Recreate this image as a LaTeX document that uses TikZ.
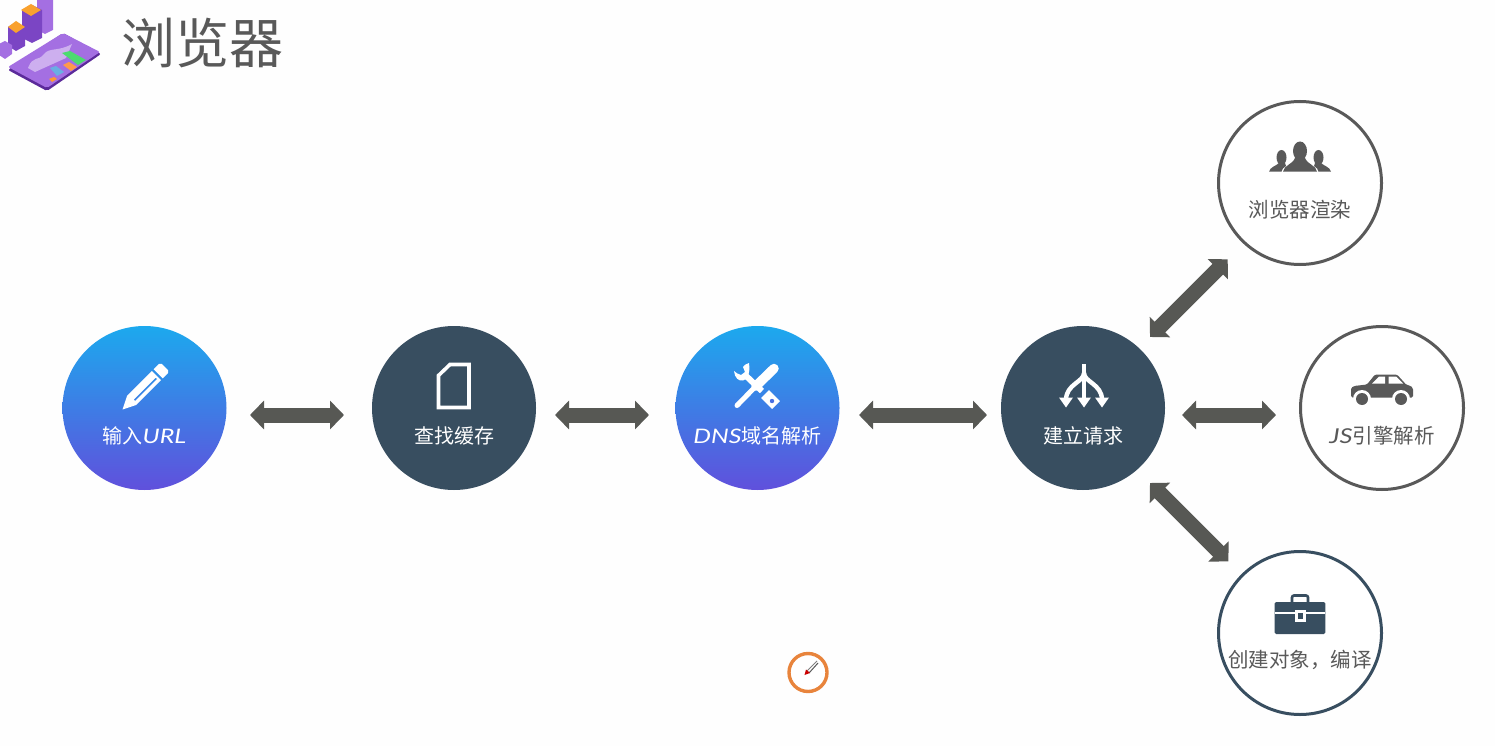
\documentclass[tikz,border=0pt]{standalone}
\usepackage{fontspec}
\usetikzlibrary{arrows.meta,calc}
\newfontfamily\cjkf{Noto Sans CJK SC}
\newfontfamily\latf[FakeStretch=1.25]{Lato}
\definecolor{arrowgray}{HTML}{575854}
\definecolor{inkgray}{HTML}{595959}
\definecolor{slate}{HTML}{384E60}
\definecolor{gradtop}{HTML}{1CA9EE}
\definecolor{gradbot}{HTML}{6050DC}
\definecolor{badge}{HTML}{E8843C}
\definecolor{logoA}{HTML}{A46FE2}
\definecolor{logoB}{HTML}{7B45C4}
\definecolor{logoC}{HTML}{5B2A9A}
\definecolor{logoO}{HTML}{F9A12E}
\tikzset{
  x=1pt,y=-1pt,
  every node/.style={inner sep=0pt,outer sep=0pt},
  gradcirc/.style={circle,minimum size=164pt,top color=gradtop,bottom color=gradbot,draw=none},
  darkcirc/.style={circle,minimum size=164pt,fill=slate},
  ringcirc/.style={circle,minimum size=163pt,draw=#1,line width=3pt,fill=white},
  biarrow/.style={draw=arrowgray,line width=15pt,{Triangle[length=14pt,width=28pt]}-{Triangle[length=14pt,width=28pt]}},
  whitelab/.style={text=white,font=\cjkf\fontsize{20}{24}\selectfont},
  graylab/.style={text=inkgray,font=\cjkf\fontsize{20.5}{24}\selectfont},
  titlelab/.style={text=inkgray,font=\cjkf\fontsize{54}{60}\selectfont},
  wfill/.style={fill=white,draw=none},
  wline/.style={draw=white,line width=3.6pt},
  gfill/.style={fill=inkgray,draw=none},
  sfill/.style={fill=slate,draw=none},
}
\newcommand{\latI}[1]{{\latf\itshape #1}}
\begin{document}
\begin{tikzpicture}
\useasboundingbox (0,0) rectangle (1495,746);
\fill[white!99.5!black] (0,0) rectangle (1495,746);

% logo
\fill[logoA] (37,-2) -- (53,-2) -- (53,30) -- (45,34) -- (37,30) -- cycle;
\fill[logoB] (22,10) -- (32,5) -- (42,10) -- (42,38) -- (32,43) -- (22,38) -- cycle;
\fill[logoO] (21,10) -- (31,4) -- (41,10) -- (31,16) -- cycle;
\fill[logoB] (8,27) -- (16,22) -- (25,27) -- (25,46) -- (16,51) -- (8,46) -- cycle;
\fill[logoO] (8,27) -- (16,21) -- (25,27) -- (16,33) -- cycle;
\fill[logoA] (-1,44) -- (5,41) -- (12,45) -- (12,54) -- (5,59) -- (-1,55) -- cycle;
\fill[logoC,rounded corners=2pt] (8,70) -- (63,33) -- (101,54) -- (47,91) -- cycle;
\fill[logoA,rounded corners=2pt] (8,67) -- (63,33) -- (100,52) -- (47,88) -- cycle;
\fill[white,opacity=.45] (28,68) .. controls (33,55) and (38,62) .. (44,54) .. controls (50,47) and (58,52) .. (72,44) -- (66,58) -- (35,72) -- cycle;
\fill[green!60!teal!70!white] (62,53) -- (70,51) -- (86,60) -- (78,65) -- cycle;
\fill[cyan!70!blue!60!white] (50,68) -- (56,66) -- (64,72) -- (57,76) -- cycle;
\fill[orange!60!pink] (63,65) -- (69,62) -- (77,67) -- (71,71) -- cycle;
\fill[orange!80!white] (49,79) -- (54,77) -- (57,79) -- (52,82) -- cycle;

\node[titlelab] (title) at (202.5,43) {浏览器};

% circles
\node[gradcirc] (url) at (144.5,408) {};
\node[darkcirc] (cache) at (454,408) {};
\node[gradcirc] (dns) at (757.5,408) {};
\node[darkcirc] (req) at (1083,408) {};
\node[ringcirc=inkgray] (render) at (1300,183) {};
\node[ringcirc=inkgray] (js) at (1382,408) {};
\node[ringcirc=slate] (obj) at (1300,633) {};

% labels
\node[whitelab] (urllab) at (144.5,436) {输入\latI{URL}};
\node[whitelab] (cachelab) at (454,436) {查找缓存};
\node[whitelab] (dnslab) at (757.5,436) {\latI{DNS}域名解析};
\node[whitelab] (reqlab) at (1083,436) {建立请求};
\node[graylab] (renderlab) at (1300,210) {浏览器渲染};
\node[graylab] (jslab) at (1382,436) {\latI{JS}引擎解析};
\node[graylab] (objlab) at (1300,660) {创建对象，编译};

% connectors
\draw[biarrow,shorten <=23.5pt,shorten >=28pt] ([yshift=-7pt]url.east) -- ([yshift=-7pt]cache.west);
\draw[biarrow,shorten <=19pt,shorten >=26.5pt] ([yshift=-7pt]cache.east) -- ([yshift=-7pt]dns.west);
\draw[biarrow,shorten <=19.5pt,shorten >=14pt] ([yshift=-7pt]dns.east) -- ([yshift=-7pt]req.west);
\draw[biarrow,shorten <=17pt,shorten >=24.5pt] ([yshift=-7pt]req.east) -- ([yshift=-7pt]js.west);
\draw[biarrow,shorten <=15.6pt,shorten >=23.6pt] ([shift={(-2,-2)}]req.45) -- ([shift={(2,2)}]render.225);
\draw[biarrow,shorten <=18.4pt,shorten >=19.8pt] ([shift={(-4,4)}]req.-45) -- (obj.135);

% pencil
\begin{scope}[shift={(122.5,409.5)},rotate=45]
  \fill[wfill,even odd rule] (0,0) -- (13,-6.5) -- (48,-6.5) -- (48,6.5) -- (13,6.5) -- cycle
     (15,1) rectangle (46,3);
  \fill[wfill] (50.5,-6.5) -- (58,-6.5) -- (60,-4.5) -- (60,4.5) -- (58,6.5) -- (50.5,6.5) -- cycle;
\end{scope}

% document
\draw[wline,line join=miter] (438.5,375.5) -- (450,364.5) -- (469,364.5) -- (469,407.5) -- (438.5,407.5) -- cycle;

% tools
\draw[white,line width=5pt,line cap=round] (737,405.5) -- (757,385);
\draw[white,line width=9.5pt,line cap=round] (756,386) -- (774,368.5);
\fill[wfill] (734,371) .. controls (735,385) and (752,385) .. (749,363) .. controls (746,364) and (744,365) .. (743,367) -- (745,372) -- (741,375) .. controls (738,374) and (736,373) .. cycle;
\draw[white,line width=6pt] (744,374) -- (762,391);
\draw[white,line width=11pt] (765,394) -- (776,405);
\fill[fill=gradtop!35!gradbot] (772,401) circle (2.2pt);

% three arrows
\draw[white,line width=4.6pt] (1084,364) -- (1084,400);
\draw[white,line width=4.4pt] (1084,373) .. controls (1084,382) and (1066,384) .. (1066,400);
\draw[white,line width=4.4pt] (1084,373) .. controls (1084,382) and (1102,384) .. (1102,400);
\fill[wfill] (1059,397.5) -- (1073,397.5) -- (1066,407.5) -- cycle;
\fill[wfill] (1077,397.5) -- (1091,397.5) -- (1084,407.5) -- cycle;
\fill[wfill] (1095,397.5) -- (1109,397.5) -- (1102,407.5) -- cycle;

% people
\fill[gfill] (1281.5,157.5) ellipse (5 and 7.5);
\fill[gfill] (1269,171.7) .. controls (1270,167) and (1276,166) .. (1279,163) -- (1285,163) -- (1286,166) .. controls (1283,167) and (1282,170) .. (1281.5,171.7) -- cycle;
\fill[gfill] (1318.5,157.5) ellipse (5 and 7.5);
\fill[gfill] (1331,171.7) .. controls (1330,167) and (1324,166) .. (1321,163) -- (1315,163) -- (1314,166) .. controls (1317,167) and (1318,170) .. (1318.5,171.7) -- cycle;
\fill[gfill] (1300,151) ellipse (7 and 9.5);
\fill[gfill] (1283,171.7) .. controls (1284,165) and (1292,165) .. (1295,158) -- (1305,158) .. controls (1308,165) and (1316,165) .. (1317,171.7) -- cycle;

% car
\fill[gfill,rounded corners=1.5pt] (1351,388) -- (1351,390) -- (1351,397.5) -- (1413,397.5) -- (1413,388) -- (1410,385.5) -- (1406.5,385) -- (1397,374.5) -- (1375,374.5) -- (1367,384.5) -- (1354,386) -- cycle;
\fill[white] (1372,383.5) -- (1379,376.5) -- (1385,376.5) -- (1385,383.5) -- cycle;
\fill[white] (1388.5,376.5) -- (1396,376.5) -- (1403,383.5) -- (1388.5,383.5) -- cycle;
\fill[white] (1362,399) circle (9);
\fill[white] (1401,399) circle (9);
\fill[gfill] (1362,399) circle (6);
\fill[gfill] (1401,399) circle (6);

% briefcase
\draw[slate,line width=2.6pt,rounded corners=2pt] (1292,603) -- (1292,595.5) -- (1308,595.5) -- (1308,603);
\fill[sfill,rounded corners=1.5pt] (1274.7,602) rectangle (1325.3,634);
\fill[white] (1274.7,612.3) rectangle (1325.3,614.3);
\fill[white] (1295,610) rectangle (1305.7,621.7);
\fill[sfill] (1297.5,612.5) rectangle (1303.2,619.2);

% badge
\node[circle,minimum size=38pt,draw=badge,line width=3.4pt,fill=white] (pen) at (808,672.5) {};
\draw[gray,line width=1pt] (807,671) -- (817,661);
\draw[gray!70!black,line width=1pt] (809,673) -- (818,663);
\fill[red!80!black] (804.5,675) -- (806,669.5) -- (810,673) -- cycle;
\end{tikzpicture}
\end{document}
